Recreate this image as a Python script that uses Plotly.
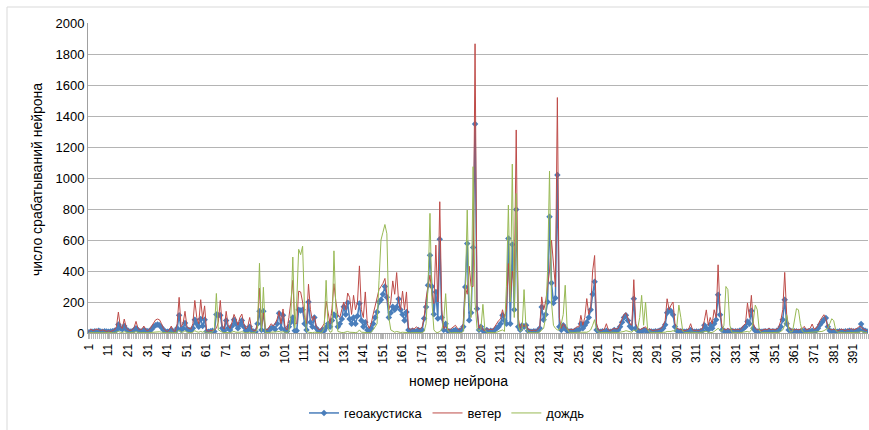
import plotly.graph_objects as go

geo = [
 5, 10, 8, 12, 10, 15, 10, 8, 12, 10,
 8, 10, 12, 15, 20, 55, 30, 25, 45, 25,
 15, 10, 12, 20, 30, 20, 12, 10, 20, 15,
 12, 15, 25, 40, 50, 55, 50, 35, 20, 10,
 8, 10, 20, 10, 8, 30, 115, 20, 30, 65,
 25, 20, 15, 30, 85, 60, 40, 90, 45, 85,
 10, 8, 12, 15, 10, 120, 115, 115, 30, 15,
 80, 30, 20, 45, 85, 60, 30, 55, 80, 40,
 15, 20, 40, 15, 10, 8, 60, 140, 20, 140,
 15, 10, 20, 30, 35, 25, 60, 128, 30, 115,
 20, 10, 40, 70, 100, 15, 15, 150, 145, 150,
 60, 20, 200, 70, 40, 100, 30, 15, 10, 20,
 15, 35, 60, 40, 80, 120, 110, 40, 60, 90,
 170, 120, 195, 90, 60, 100, 60, 110, 190, 80,
 40, 70, 20, 10, 30, 60, 100, 136, 200, 215,
 250, 300, 230, 100, 130, 170, 150, 168, 220, 150,
 120, 80, 136, 20, 10, 15, 12, 10, 20, 15,
 20, 93, 168, 308, 502, 300, 121, 265, 93, 605,
 100, 20, 60, 15, 10, 12, 15, 20, 10, 15,
 20, 40, 297, 577, 82, 130, 551, 1349, 157, 20,
 40, 15, 10, 20, 10, 15, 12, 20, 30, 40,
 60, 114, 80, 60, 610, 60, 571, 150, 797, 40,
 20, 50, 40, 50, 15, 10, 8, 12, 10, 15,
 30, 168, 86, 120, 200, 750, 323, 194, 226, 1019,
 40, 20, 50, 30, 15, 10, 12, 10, 15, 20,
 20, 60, 30, 50, 70, 100, 150, 250, 330, 20,
 10, 8, 12, 10, 15, 10, 8, 10, 20, 15,
 20, 40, 70, 100, 114, 80, 43, 30, 221, 30,
 15, 10, 12, 20, 15, 10, 12, 10, 8, 12,
 10, 15, 20, 30, 54, 130, 150, 140, 118, 40,
 15, 10, 12, 10, 8, 10, 12, 20, 10, 8,
 10, 8, 12, 15, 50, 30, 20, 54, 30, 60,
 86, 247, 118, 20, 15, 10, 12, 10, 15, 10,
 12, 10, 15, 20, 30, 40, 75, 60, 144, 30,
 15, 10, 12, 8, 10, 12, 10, 15, 10, 12,
 10, 15, 20, 40, 86, 215, 60, 20, 15, 10,
 12, 10, 8, 10, 12, 15, 10, 12, 10, 15,
 10, 15, 30, 54, 70, 86, 97, 40, 15, 10,
 12, 10, 8, 12, 10, 8, 12, 10, 15, 10,
 12, 10, 15, 20, 58, 20, 15, 10,
]

wind = [
 10, 25, 15, 20, 25, 20, 15, 20, 15, 10,
 15, 10, 15, 20, 40, 135, 40, 30, 90, 35,
 20, 15, 20, 35, 75, 30, 20, 25, 45, 20,
 15, 25, 45, 70, 85, 90, 85, 60, 30, 15,
 10, 20, 45, 15, 10, 60, 230, 40, 60, 140,
 40, 30, 25, 60, 210, 100, 60, 215, 90, 175,
 15, 12, 15, 20, 20, 30, 70, 210, 40, 25,
 140, 50, 30, 70, 120, 90, 50, 100, 122, 60,
 25, 40, 100, 25, 15, 15, 60, 290, 30, 130,
 25, 20, 40, 60, 45, 60, 90, 140, 60, 155,
 40, 20, 100, 200, 340, 60, 60, 270, 265, 200,
 100, 60, 315, 150, 80, 110, 40, 25, 20, 40,
 60, 205, 120, 60, 160, 318, 200, 120, 100, 160,
 200, 150, 258, 230, 120, 243, 150, 200, 433, 150,
 100, 265, 60, 30, 60, 120, 180, 222, 280, 300,
 320, 352, 250, 150, 200, 336, 250, 390, 200, 150,
 270, 150, 265, 30, 20, 30, 25, 40, 30, 25,
 40, 100, 222, 300, 373, 250, 190, 567, 200, 847,
 150, 30, 40, 25, 20, 30, 40, 50, 30, 20,
 30, 60, 297, 250, 431, 300, 300, 1866, 160, 30,
 50, 20, 15, 30, 20, 25, 20, 40, 60, 80,
 90, 150, 100, 150, 448, 200, 400, 300, 1310, 100,
 30, 60, 40, 60, 25, 20, 15, 20, 15, 25,
 40, 233, 150, 200, 300, 400, 600, 450, 297, 1519,
 100, 30, 60, 40, 25, 20, 25, 20, 30, 40,
 40, 114, 50, 100, 222, 120, 168, 400, 500, 60,
 20, 15, 20, 25, 60, 20, 15, 20, 30, 25,
 30, 60, 90, 120, 130, 100, 60, 50, 344, 60,
 30, 20, 25, 30, 40, 20, 25, 20, 15, 20,
 20, 25, 30, 50, 80, 221, 150, 180, 200, 60,
 30, 25, 20, 20, 15, 20, 25, 60, 20, 15,
 20, 15, 20, 30, 80, 149, 50, 100, 60, 150,
 100, 440, 150, 40, 25, 20, 30, 20, 25, 20,
 20, 25, 20, 30, 50, 60, 194, 100, 243, 60,
 30, 20, 25, 15, 20, 25, 20, 30, 20, 25,
 20, 25, 40, 80, 150, 391, 120, 40, 25, 20,
 20, 25, 20, 25, 30, 43, 20, 25, 30, 58,
 25, 30, 50, 80, 100, 118, 90, 40, 25, 20,
 25, 20, 15, 20, 25, 20, 15, 25, 20, 30,
 20, 25, 30, 43, 40, 25, 20, 15,
]

rain = [
 2, 5, 3, 2, 4, 3, 2, 3, 2, 2,
 2, 2, 3, 2, 5, 10, 5, 3, 8, 4,
 3, 2, 2, 5, 8, 4, 2, 3, 5, 3,
 2, 3, 5, 8, 10, 10, 8, 5, 3, 2,
 2, 3, 5, 2, 2, 5, 20, 5, 5, 15,
 5, 3, 2, 5, 15, 8, 5, 10, 5, 10,
 2, 2, 3, 5, 30, 255, 20, 10, 5, 3,
 5, 3, 2, 5, 10, 5, 3, 5, 8, 3,
 2, 3, 5, 2, 2, 5, 30, 450, 10, 295,
 3, 2, 3, 5, 5, 5, 8, 10, 5, 8,
 5, 3, 10, 100, 490, 30, 200, 540, 505, 560,
 150, 10, 5, 3, 2, 5, 3, 2, 2, 5,
 30, 340, 30, 5, 10, 530, 150, 10, 5, 3,
 3, 5, 10, 5, 3, 5, 3, 5, 20, 5,
 3, 5, 3, 2, 5, 20, 40, 60, 340, 600,
 650, 700, 640, 100, 20, 10, 5, 10, 5, 3,
 5, 3, 5, 2, 2, 3, 2, 5, 3, 2,
 3, 10, 60, 300, 772, 200, 20, 5, 3, 10,
 20, 80, 254, 20, 3, 2, 3, 5, 3, 2,
 3, 10, 250, 793, 200, 100, 1073, 200, 30, 10,
 30, 185, 20, 3, 2, 3, 2, 3, 5, 10,
 10, 20, 10, 300, 825, 200, 1090, 100, 900, 50,
 10, 20, 280, 30, 3, 2, 2, 3, 2, 5,
 5, 20, 30, 100, 400, 1045, 200, 50, 30, 20,
 20, 60, 120, 308, 30, 5, 3, 2, 3, 5,
 5, 3, 5, 3, 5, 10, 20, 50, 86, 20,
 5, 3, 2, 3, 2, 3, 5, 3, 2, 3,
 3, 5, 5, 10, 15, 10, 5, 5, 20, 10,
 30, 100, 243, 50, 200, 30, 5, 3, 2, 3,
 3, 2, 3, 5, 5, 10, 10, 10, 15, 10,
 50, 180, 100, 10, 3, 2, 3, 5, 3, 2,
 3, 2, 3, 5, 5, 10, 5, 5, 3, 10,
 20, 30, 20, 10, 50, 300, 280, 50, 5, 3,
 2, 3, 2, 3, 5, 5, 10, 5, 20, 80,
 180, 150, 20, 3, 2, 3, 2, 3, 2, 3,
 3, 5, 5, 10, 20, 50, 118, 30, 5, 10,
 100, 157, 150, 60, 10, 3, 2, 3, 5, 3,
 3, 5, 5, 10, 10, 15, 20, 30, 60, 92,
 80, 20, 5, 3, 2, 3, 2, 3, 2, 3,
 3, 2, 5, 5, 10, 5, 3, 5,
]

neurons = list(range(1, len(geo) + 1))
tick_vals = neurons[::10]
tick_text = [str(v) for v in tick_vals]

FONT = "Liberation Sans, Arial, sans-serif"

fig = go.Figure()
fig.add_trace(go.Scatter(
    x=neurons, y=geo, name="геоакустиска", mode="lines+markers",
    line=dict(color="#4A7EBB", width=1.5),
    marker=dict(symbol="diamond", size=5, color="#4A7EBB"),
))
fig.add_trace(go.Scatter(
    x=neurons, y=wind, name="ветер", mode="lines",
    line=dict(color="#BE4B48", width=1),
))
fig.add_trace(go.Scatter(
    x=neurons, y=rain, name="дождь", mode="lines",
    line=dict(color="#98B954", width=1),
))

L, R, T, B = 88, 1, 23, 97
W, H = 869, 430
pw, ph = W - L - R, H - T - B

def px(xp):
    return (xp - L) / pw

def py(yp):
    return (H - B - yp) / ph

n = len(neurons)
fig.update_layout(
    width=W, height=H,
    margin=dict(l=L, r=R, t=T, b=B, pad=0),
    paper_bgcolor="white", plot_bgcolor="white",
    font=dict(family=FONT, size=13, color="#000000"),
    showlegend=True,
    legend=dict(orientation="h", x=px(447), xanchor="center", y=py(413), yanchor="middle",
                font=dict(size=13), bgcolor="rgba(0,0,0,0)", itemwidth=30, tracegroupgap=0),
    xaxis=dict(
        range=[0.5, n + 0.5], tickmode="array", tickvals=tick_vals, ticktext=tick_text,
        tickangle=-90, ticks="outside", ticklen=5, tickcolor="#b0b0b0", tickwidth=1,
        tickfont=dict(size=12), showgrid=False, zeroline=False,
        showline=True, linecolor="#a0a0a0", linewidth=1,
        minor=dict(tickmode="array", tickvals=[v - 0.5 for v in neurons] + [n + 0.5],
                   ticks="outside", ticklen=5, tickcolor="#b8b8b8", tickwidth=1, showgrid=False),
    ),
    yaxis=dict(
        range=[0, 2000], tickmode="linear", tick0=0, dtick=200,
        showgrid=True, gridcolor="#b4b4b4", gridwidth=1, zeroline=False,
        showline=True, linecolor="#a0a0a0", linewidth=1, ticks="", ticklen=0,
        tickfont=dict(size=13),
    ),
    annotations=[
        dict(text="число срабатываний нейрона", xref="paper", yref="paper",
             x=px(37), y=py(180), textangle=-90, showarrow=False,
             font=dict(size=14), xanchor="center", yanchor="middle"),
        dict(text="номер нейрона", xref="paper", yref="paper",
             x=px(458), y=py(381), showarrow=False,
             font=dict(size=14), xanchor="center", yanchor="middle"),
    ],
    shapes=[
        dict(type="line", xref="paper", yref="paper", x0=px(7), x1=px(869), y0=py(7), y1=py(7),
             line=dict(color="#d9d9d9", width=1)),
        dict(type="line", xref="paper", yref="paper", x0=px(7), x1=px(7), y0=py(7), y1=py(430),
             line=dict(color="#d9d9d9", width=1)),
    ],
)

fig.write_html("out.html", config={"displayModeBar": False},
               post_script="document.body.style.margin='0';document.body.style.overflow='hidden';")
